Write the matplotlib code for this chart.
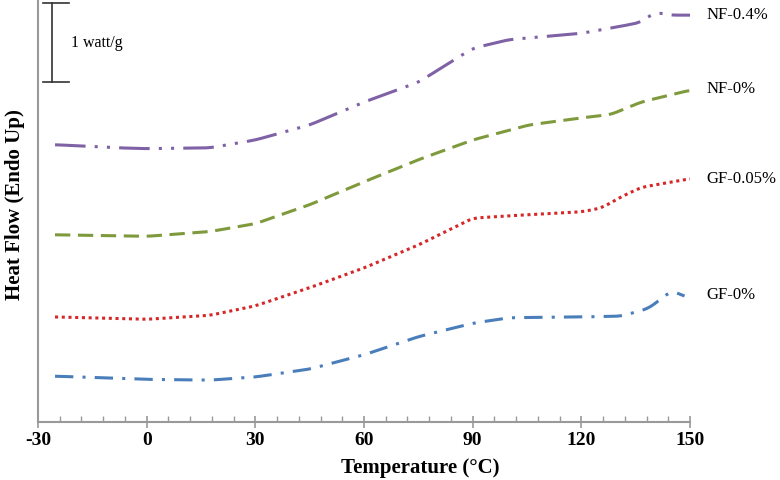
import numpy as np
import matplotlib.pyplot as plt

plt.rcParams['font.family'] = ['Liberation Serif', 'DejaVu Serif']
plt.rcParams['axes.unicode_minus'] = False

# heat flow in W/g (offset)
nf04_t = [-25.3, -7.5, 0, 17.4, 30, 45, 60, 75, 90, 100, 120, 131, 136.5, 139, 141, 143, 145, 150]
nf04_q = [3.51, 3.47, 3.46, 3.47, 3.57, 3.76, 4.05, 4.30, 4.73, 4.84, 4.92, 5.01, 5.06, 5.15, 5.19, 5.16, 5.15, 5.15]

nf0_t = [-25.3, 0, 17.4, 30, 45, 60, 75, 90, 105.5, 120, 128, 136.5, 150]
nf0_q = [2.37, 2.35, 2.41, 2.51, 2.75, 3.04, 3.32, 3.57, 3.76, 3.85, 3.89, 4.05, 4.20]

gf005_t = [-25.3, 0, 17.4, 30, 45, 60, 75, 90, 100, 120, 125.6, 131, 136.5, 150]
gf005_q = [1.33, 1.30, 1.35, 1.47, 1.70, 1.95, 2.24, 2.58, 2.61, 2.66, 2.71, 2.85, 2.97, 3.08]

gf0_t = [-25.3, 0, 17.4, 30, 45, 60, 75, 90, 100, 120, 131, 138.7, 142.8, 145, 147, 148.5]
gf0_q = [0.58, 0.54, 0.53, 0.57, 0.67, 0.85, 1.08, 1.25, 1.32, 1.33, 1.34, 1.44, 1.59, 1.66, 1.63, 1.58]

labels = ['NF-0.4%', 'NF-0%', 'GF-0.05%', 'GF-0%']
label_q = [5.15, 4.22, 3.07, 1.61]
colors = ['#7f62a6', '#7f9a3c', '#d62728', '#4a7ebb']
dashes = [(10, 3, 1, 3, 1, 3), (5, 2.5), (1, 1.2), (6, 3, 1, 3)]


def smooth(t, q, k=4):
    tt = np.linspace(t[0], t[-1], 400)
    qq = np.interp(tt, t, q)
    pad = np.pad(qq, k, mode='edge')
    qq = np.convolve(pad, np.ones(2 * k + 1) / (2 * k + 1), mode='same')[k:-k]
    return tt, qq


fig = plt.figure(figsize=(7.8, 4.8), dpi=100)
ax = fig.add_axes([38 / 780, 58 / 480, 652 / 780, 422 / 480])

series = [(nf04_t, nf04_q), (nf0_t, nf0_q), (gf005_t, gf005_q), (gf0_t, gf0_q)]
for (t, q), lab, lq, c, d in zip(series, labels, label_q, colors, dashes):
    tt, qq = smooth(t, q)
    ax.plot(tt, qq, color=c, lw=2.2, dashes=d, solid_capstyle='butt')
    ax.text(154.5, lq, lab, fontsize=12, va='center', ha='left', clip_on=False)

# scale bar: 1 watt/g
ax.plot([-26, -26], [4.3, 5.3], color='#333333', lw=1.2)
ax.plot([-28.5, -21.5], [5.3, 5.3], color='#333333', lw=1.2)
ax.plot([-28.5, -21.5], [4.3, 4.3], color='#333333', lw=1.2)
ax.text(-21, 4.8, '1 watt/g', fontsize=11.5, va='center', ha='left')

ax.set_xlim(-30, 150)
ax.set_ylim(0, 422 / 79)
ax.set_xticks(np.arange(-30, 151, 30))
ax.set_xticks(np.arange(-30, 151, 6), minor=True)
ax.set_yticks([])
for s in ['top', 'right']:
    ax.spines[s].set_visible(False)
for s in ['left', 'bottom']:
    ax.spines[s].set_color('#999999')
    ax.spines[s].set_linewidth(1.5)
ax.tick_params(axis='x', which='major', direction='inout', length=9, width=1.2,
               color='#999999', labelsize=14, pad=3)
ax.tick_params(axis='x', which='minor', direction='in', length=4, width=1,
               color='#999999')
for lbl in ax.get_xticklabels():
    lbl.set_fontweight('bold')
ax.set_xlabel('Temperature (°C)', fontsize=15, fontweight='bold', labelpad=5)
ax.xaxis.set_label_coords((420 - 38) / 652, -0.085)
ax.set_ylabel('Heat Flow (Endo Up)', fontsize=15, fontweight='bold')
ax.yaxis.set_label_coords(-0.02, (422 - 205) / 422)

fig.savefig('out.png', dpi=100)
